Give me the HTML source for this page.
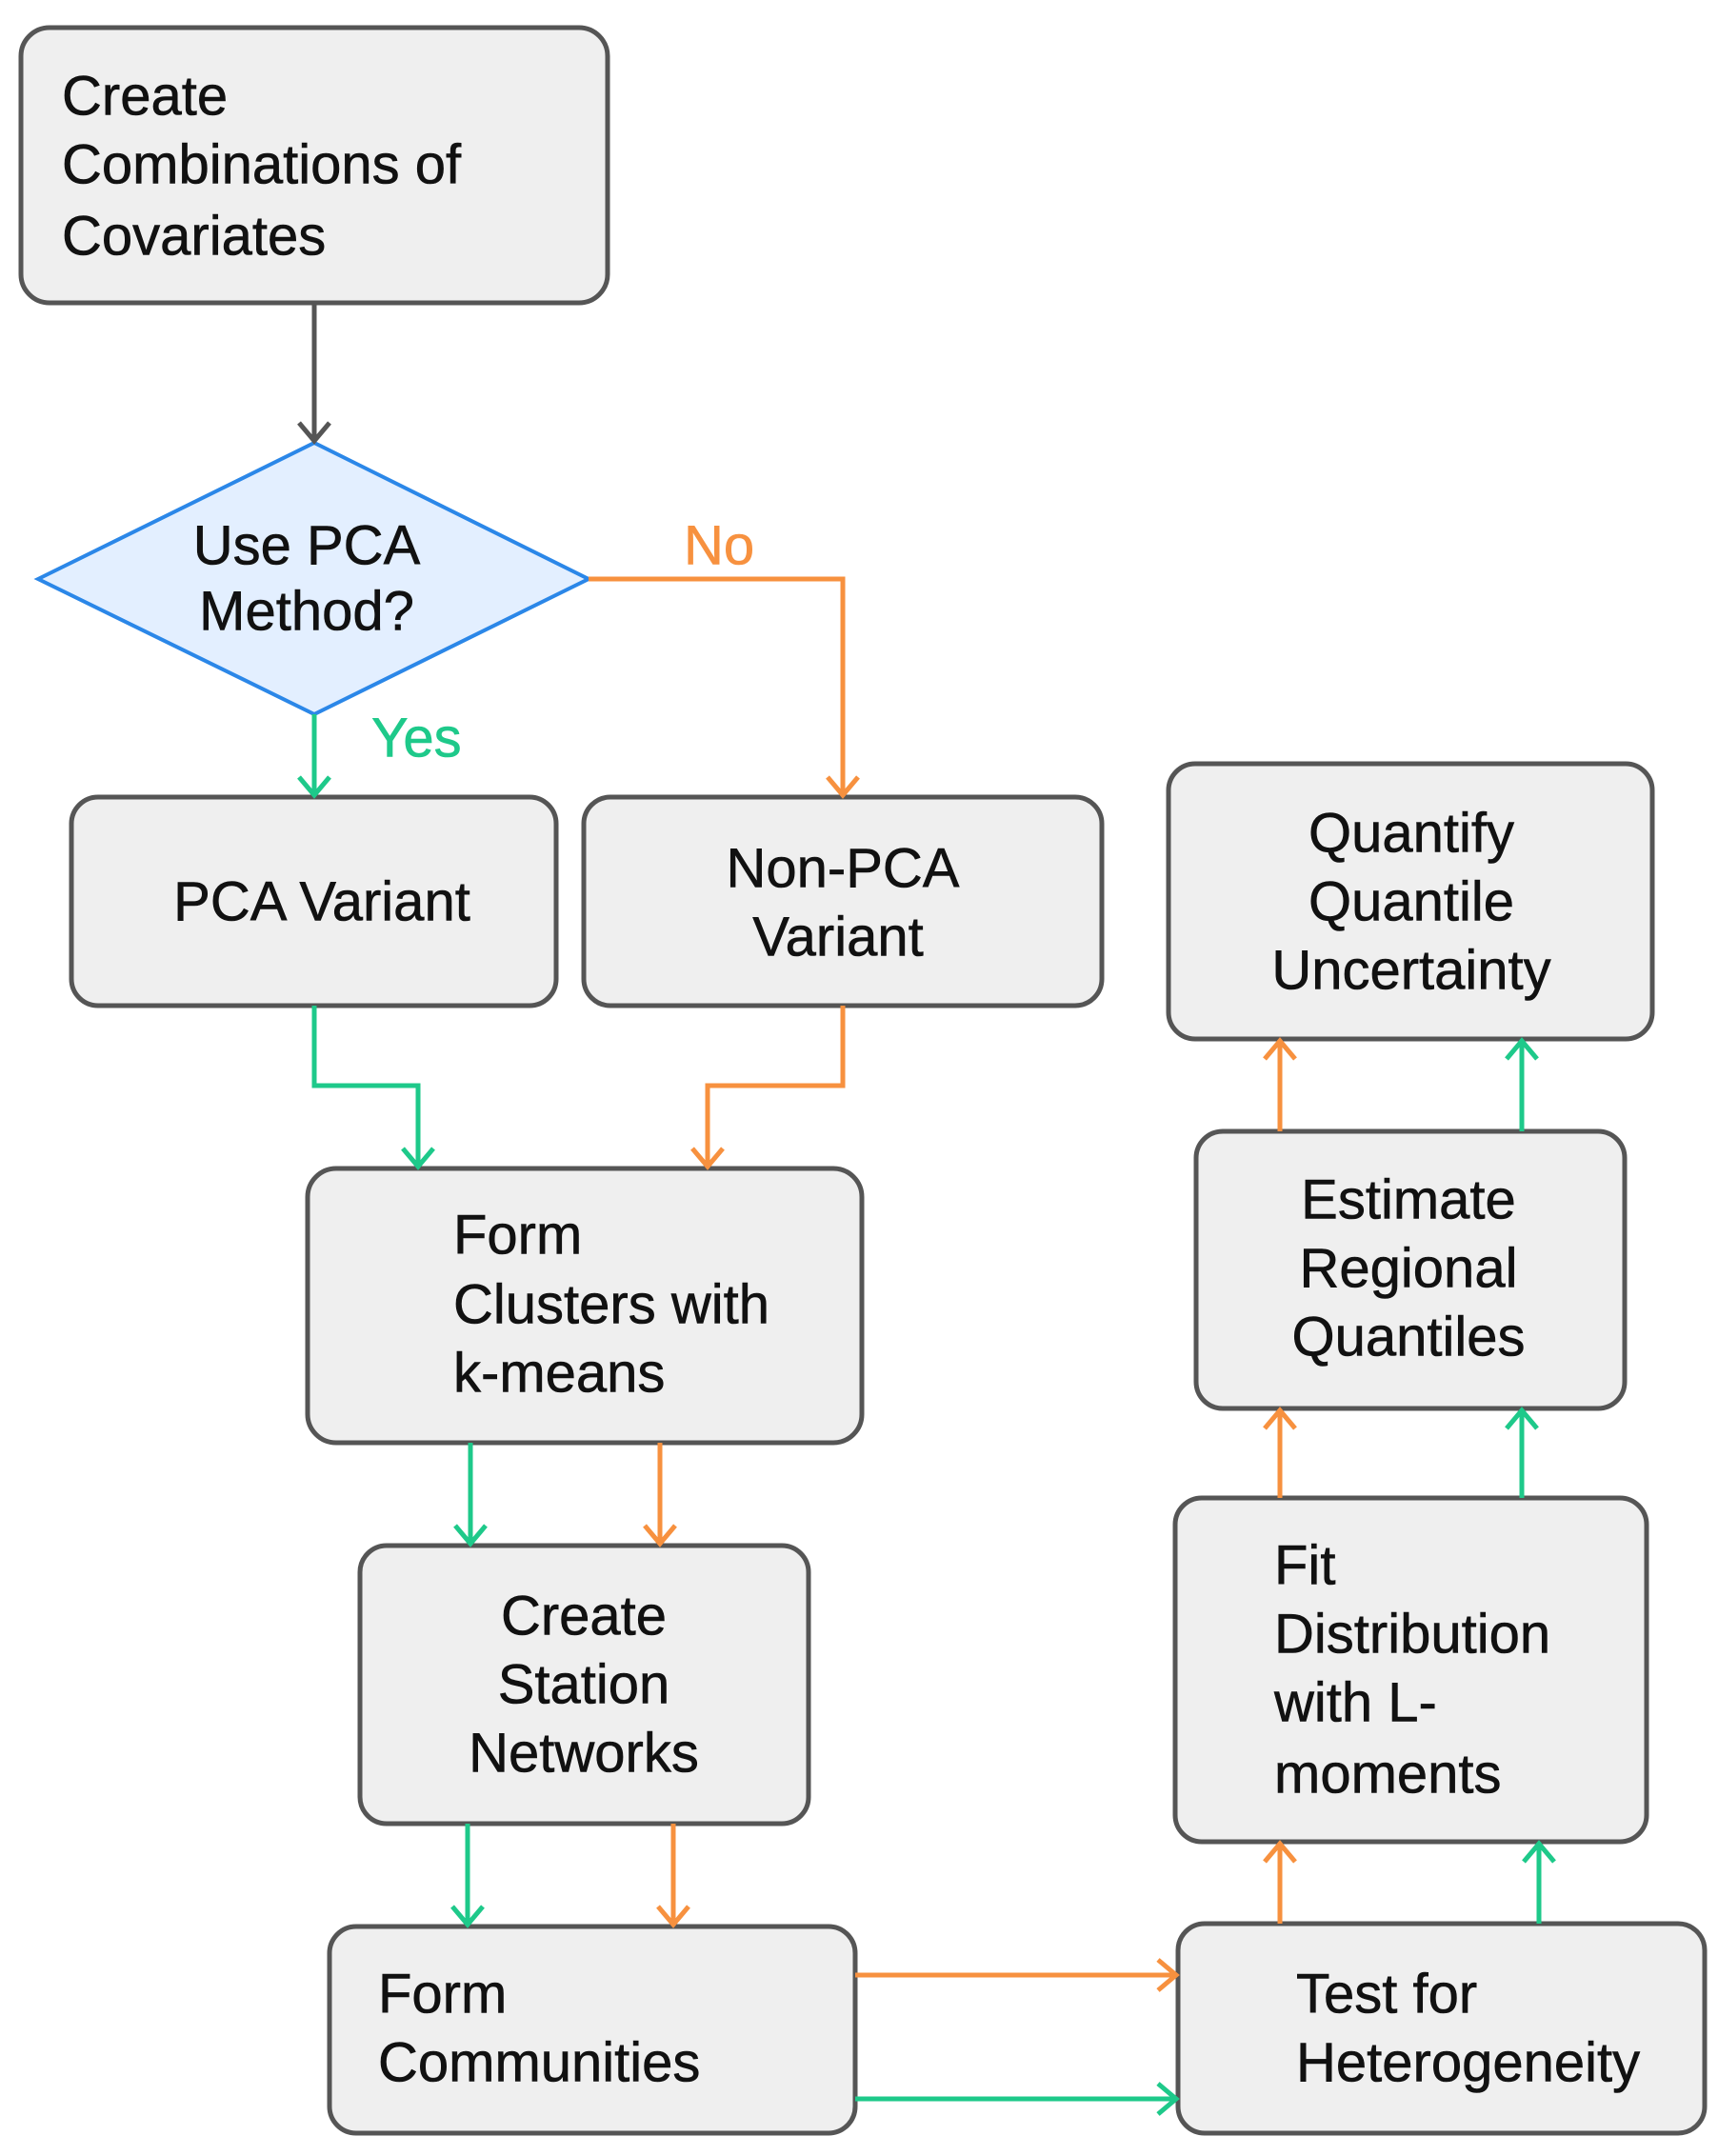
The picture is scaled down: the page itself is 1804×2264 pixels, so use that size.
<!DOCTYPE html>
<html><head><meta charset="utf-8"><style>
html,body{margin:0;padding:0;background:#fff;}
svg{display:block;}
text{font-family:"Liberation Sans",sans-serif;font-size:58px;fill:#111;dominant-baseline:central;stroke:#111;stroke-width:0.6px;}
</style></head><body>
<svg width="1804" height="2264" viewBox="0 0 1804 2264" xmlns="http://www.w3.org/2000/svg">
<g fill="#efefef" stroke="#555" stroke-width="5">
<rect x="22" y="29" width="616" height="289" rx="30"/>
<rect x="75" y="837" width="509" height="219" rx="28"/>
<rect x="613" y="837" width="544" height="219" rx="28"/>
<rect x="1227" y="802" width="508" height="289" rx="28"/>
<rect x="1256" y="1188" width="450" height="291" rx="28"/>
<rect x="1234" y="1573" width="495" height="361" rx="28"/>
<rect x="1237" y="2020" width="553" height="220" rx="28"/>
<rect x="323" y="1227" width="582" height="288" rx="30"/>
<rect x="378" y="1623" width="471" height="292" rx="28"/>
<rect x="346" y="2023" width="552" height="217" rx="28"/>
</g>
<polygon points="40,608 330,465 618,608 330,750" fill="#e3efff" stroke="#2b87e8" stroke-width="4"/>
<g fill="none" stroke-width="5" stroke-linejoin="miter">
<path d="M330 318V463M314 444L330 463L346 444" stroke="#555"/>
<g stroke="#1ec98a">
<path d="M330 750V835M314 816L330 835L346 816"/>
<path d="M330 1056V1140H439V1225M423 1206L439 1225L455 1206"/>
<path d="M494 1515V1621M478 1602L494 1621L510 1602"/>
<path d="M491 1915V2021M475 2002L491 2021L507 2002"/>
<path d="M898 2204H1235M1216 2188L1235 2204L1216 2220"/>
<path d="M1616 2020V1936M1600 1955L1616 1936L1632 1955"/>
<path d="M1598 1573V1481M1582 1500L1598 1481L1614 1500"/>
<path d="M1598 1188V1093M1582 1112L1598 1093L1614 1112"/>
</g>
<g stroke="#f7913f">
<path d="M618 608H885V835M869 816L885 835L901 816"/>
<path d="M885 1056V1140H743V1225M727 1206L743 1225L759 1206"/>
<path d="M693 1515V1621M677 1602L693 1621L709 1602"/>
<path d="M707 1915V2021M691 2002L707 2021L723 2002"/>
<path d="M898 2074H1235M1216 2058L1235 2074L1216 2090"/>
<path d="M1344 2020V1936M1328 1955L1344 1936L1360 1955"/>
<path d="M1344 1573V1481M1328 1500L1344 1481L1360 1500"/>
<path d="M1344 1188V1093M1328 1112L1344 1093L1360 1112"/>
</g>
</g>
<text x="65" y="101">Create</text>
<text x="65" y="173">Combinations of</text>
<text x="65" y="248">Covariates</text>
<g text-anchor="middle">
<text x="322" y="573">Use PCA</text>
<text x="322" y="642">Method?</text>
<text x="338" y="947">PCA Variant</text>
<text x="885" y="912">Non-PCA</text>
<text x="880" y="984">Variant</text>
<text x="1482" y="875">Quantify</text>
<text x="1482" y="947">Quantile</text>
<text x="1482" y="1019">Uncertainty</text>
<text x="613" y="1697">Create</text>
<text x="613" y="1769">Station</text>
<text x="613" y="1841">Networks</text>
<text x="1479" y="1260">Estimate</text>
<text x="1479" y="1332">Regional</text>
<text x="1479" y="1404">Quantiles</text>
</g>
<text x="476" y="1297">Form</text>
<text x="476" y="1370">Clusters with</text>
<text x="476" y="1442">k-means</text>
<text x="397" y="2094">Form</text>
<text x="397" y="2166">Communities</text>
<text x="1338" y="1644">Fit</text>
<text x="1338" y="1716">Distribution</text>
<text x="1338" y="1788">with L-</text>
<text x="1338" y="1863">moments</text>
<text x="1361" y="2094">Test for</text>
<text x="1361" y="2166">Heterogeneity</text>
<text x="718" y="573" style="fill:#f7913f;stroke:#f7913f">No</text>
<text x="390" y="775" style="fill:#1ec98a;stroke:#1ec98a">Yes</text>
</svg>
</body></html>
